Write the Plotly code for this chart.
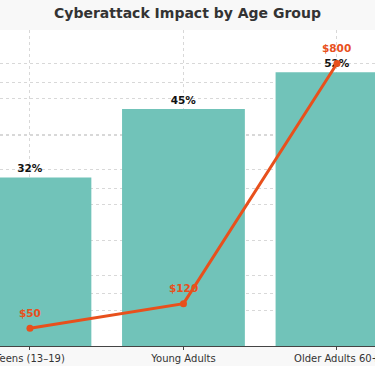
import plotly.graph_objects as go

categories = ["Teens (13–19)", "Young Adults", "Older Adults 60+"]
impact_pct = [32, 45, 52]
avg_loss = [50, 120, 800]
pct_labels = ["32%", "45%", "52%"]
loss_labels = ["$50", "$120", "$800"]

BAR = "#71c3b9"
LINE = "#e8501c"
FONT = "DejaVu Sans"

fig = go.Figure()
fig.add_trace(go.Bar(
    x=categories, y=impact_pct, width=0.8, marker=dict(color=BAR, line=dict(width=0)),
    text=[f"<b>{t}</b>" for t in pct_labels], textposition="outside",
    textfont=dict(family=FONT, size=10.5, color="#111111"), cliponaxis=False,
    yaxis="y", showlegend=False, hoverinfo="skip",
))
fig.add_trace(go.Scatter(
    x=categories, y=avg_loss, mode="lines+markers",
    line=dict(color=LINE, width=3), marker=dict(color=LINE, size=7),
    cliponaxis=False, yaxis="y2", showlegend=False, hoverinfo="skip",
))

for c, v, t in zip(categories, avg_loss, loss_labels):
    fig.add_annotation(x=c, y=v, xref="x", yref="y2", text=f"<b>{t}</b>",
                       showarrow=False, yanchor="middle", yshift=15.5,
                       font=dict(family=FONT, size=10.5, color=LINE))

fig.update_layout(
    width=375, height=366,
    margin=dict(l=0, r=0, t=30, b=20),
    paper_bgcolor="#f8f8f8", plot_bgcolor="white",
    template="none",
    title=dict(text="<b>Cyberattack Impact by Age Group</b>", x=0.5, xanchor="center",
               y=1 - 13 / 366, yref="container", yanchor="middle",
               font=dict(family=FONT, size=14, color="#333333")),
    xaxis=dict(type="category", range=[-0.195, 2.2476], automargin=False,
               showgrid=True, gridcolor="#d8d8d8", griddash="dot", gridwidth=1,
               showline=True, linecolor="#444444", linewidth=1,
               ticks="outside", ticklen=3, tickcolor="#444444",
               tickfont=dict(family=FONT, size=10, color="#333333")),
    yaxis=dict(range=[0, 60], dtick=10, showticklabels=False, automargin=False,
               showgrid=True, gridcolor="#d8d8d8", griddash="dot", gridwidth=1,
               zeroline=False, showline=False, ticks=""),
    yaxis2=dict(range=[0, 895], dtick=100, overlaying="y", side="right",
                showticklabels=False, automargin=False,
                showgrid=True, gridcolor="#d8d8d8", griddash="dot", gridwidth=1,
                zeroline=False, showline=False, ticks=""),
    bargap=0.2,
)

fig.write_html("out.html", config={"displayModeBar": False},
               post_script="document.body.style.margin='0';document.body.style.overflow='hidden';")
